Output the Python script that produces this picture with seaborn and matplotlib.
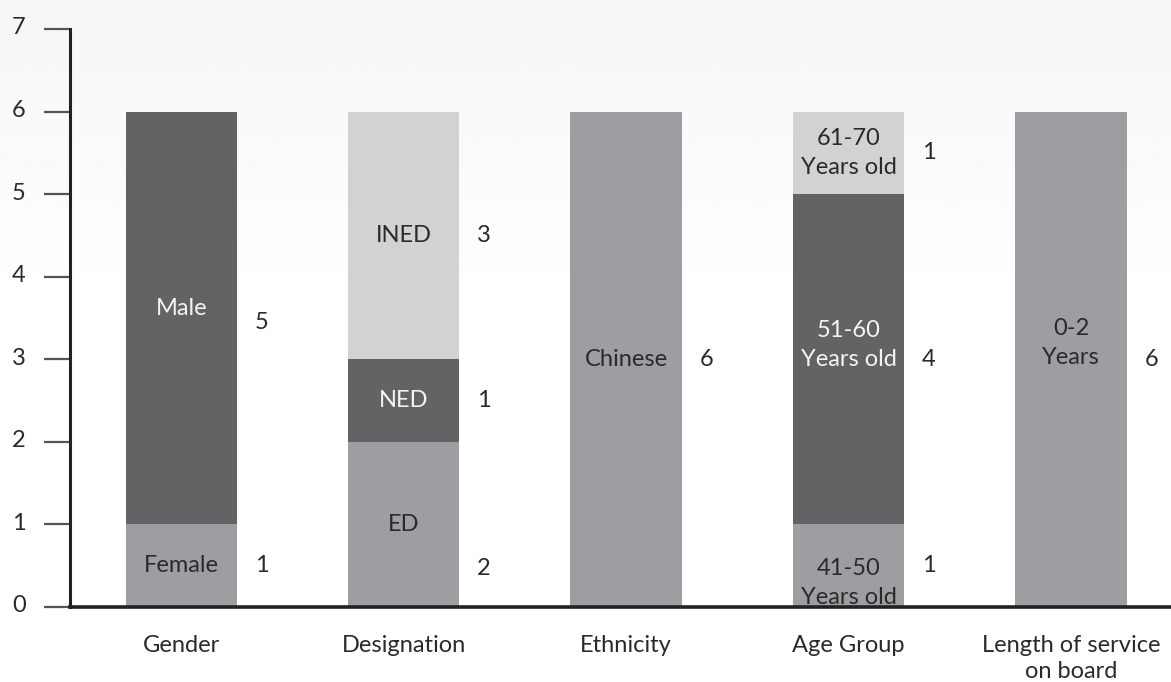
import numpy as np
import pandas as pd
import matplotlib
matplotlib.use("Agg")
import matplotlib.pyplot as plt
import matplotlib.transforms as mtransforms
import seaborn as sns

# Board composition: each category is split into up to three stacked segments
categories = ["Gender", "Designation", "Ethnicity", "Age Group",
              "Length of service\non board"]

level0_names = ["Female", "ED", "Chinese", "41-50\nYears old", "0-2\nYears"]
level0_values = [1, 2, 6, 1, 6]

level1_names = ["Male", "NED", None, "51-60\nYears old", None]
level1_values = [5, 1, 0, 4, 0]

level2_names = [None, "INED", None, "61-70\nYears old", None]
level2_values = [0, 3, 0, 1, 0]

y_ticks = [0, 1, 2, 3, 4, 5, 6, 7]

# styling
seg_colors = ["#9d9ea1", "#636366", "#d1d2d4"]
name_colors = ["#2a2a2a", "#f4f4f4", "#2a2a2a"]
text_dark = "#2a2a2a"
FONT = ["Lato", "DejaVu Sans"]
FS = 17

# small vertical nudges of the in-bar names / counts (data units)
name_nudge = [[0, 0, 0, -0.21, 0.2], [0.12, 0, 0, 0.17, 0], [0, 0, 0, 0, 0]]
count_nudge = [[0, -0.53, 0, 0, 0], [-0.05, 0, 0, 0, 0], [0, 0, 0, 0, 0]]

sns.set_theme(style="white")
plt.rcParams["font.family"] = FONT

fig = plt.figure(figsize=(11.71, 6.82), dpi=100)

# faint background shading at the top of the page
bg = fig.add_axes([0, 0, 1, 1], zorder=-10)
grad = np.linspace(0, 1, 300)
shade = np.clip(1.0 - 0.035 * (1 - grad / 0.45), 0.965, 1.0)
bg.imshow(shade[:, None], aspect="auto", cmap="gray", vmin=0, vmax=1,
          extent=[0, 1, 0, 1], origin="upper")
bg.set_axis_off()

ax = fig.add_axes([70 / 1171, 75 / 682, 1 - 70 / 1171, (607 - 29) / 682])
ax.patch.set_alpha(0)

levels_vals = [level0_values, level1_values, level2_values]
levels_names = [level0_names, level1_names, level2_names]
cum = np.cumsum(np.array(levels_vals), axis=0)

df = pd.DataFrame({"category": categories})
for lvl in range(3):
    df[f"top{lvl}"] = cum[lvl]

# draw cumulative tops from the highest layer down so each layer overlays the last
for lvl in [2, 1, 0]:
    sns.barplot(data=df, x="category", y=f"top{lvl}", order=categories,
                color=seg_colors[lvl], width=0.5, saturation=1,
                edgecolor="none", linewidth=0, ax=ax)

# segment names inside bars and counts to the right
for lvl in range(3):
    base = cum[lvl] - np.array(levels_vals[lvl])
    for i, cat in enumerate(categories):
        v = levels_vals[lvl][i]
        if v <= 0:
            continue
        mid = base[i] + v / 2
        ax.text(i, mid + name_nudge[lvl][i], levels_names[lvl][i],
                ha="center", va="center", fontsize=FS,
                color=name_colors[lvl], linespacing=1.5)
        ax.text(i + 0.33, mid + count_nudge[lvl][i], str(v),
                ha="left", va="center", fontsize=FS, color=text_dark)

ax.set_ylim(0, 7)
ax.set_xlim(-0.5, 4.45)
ax.set_yticks(y_ticks)
ax.set_xlabel("")
ax.set_ylabel("")
ax.tick_params(axis="y", length=19, width=1.6, color="#555555",
               direction="out", pad=13, labelsize=FS, labelcolor=text_dark,
               left=True)
ax.tick_params(axis="x", length=0, pad=20, labelsize=FS, labelcolor=text_dark)
for lab in ax.get_xticklabels():
    lab.set_linespacing(1.3)
    lab.set_va("top")

# y tick numbers sit a touch above their tick marks
lift = mtransforms.ScaledTranslation(0, 3 / 100, fig.dpi_scale_trans)
for lab in ax.get_yticklabels():
    lab.set_transform(lab.get_transform() + lift)

for side in ["top", "right"]:
    ax.spines[side].set_visible(False)
ax.spines["left"].set_color("#222222")
ax.spines["left"].set_linewidth(2.2)
ax.spines["bottom"].set_color("#222222")
ax.spines["bottom"].set_linewidth(2.6)

fig.savefig("out.png", dpi=100)
